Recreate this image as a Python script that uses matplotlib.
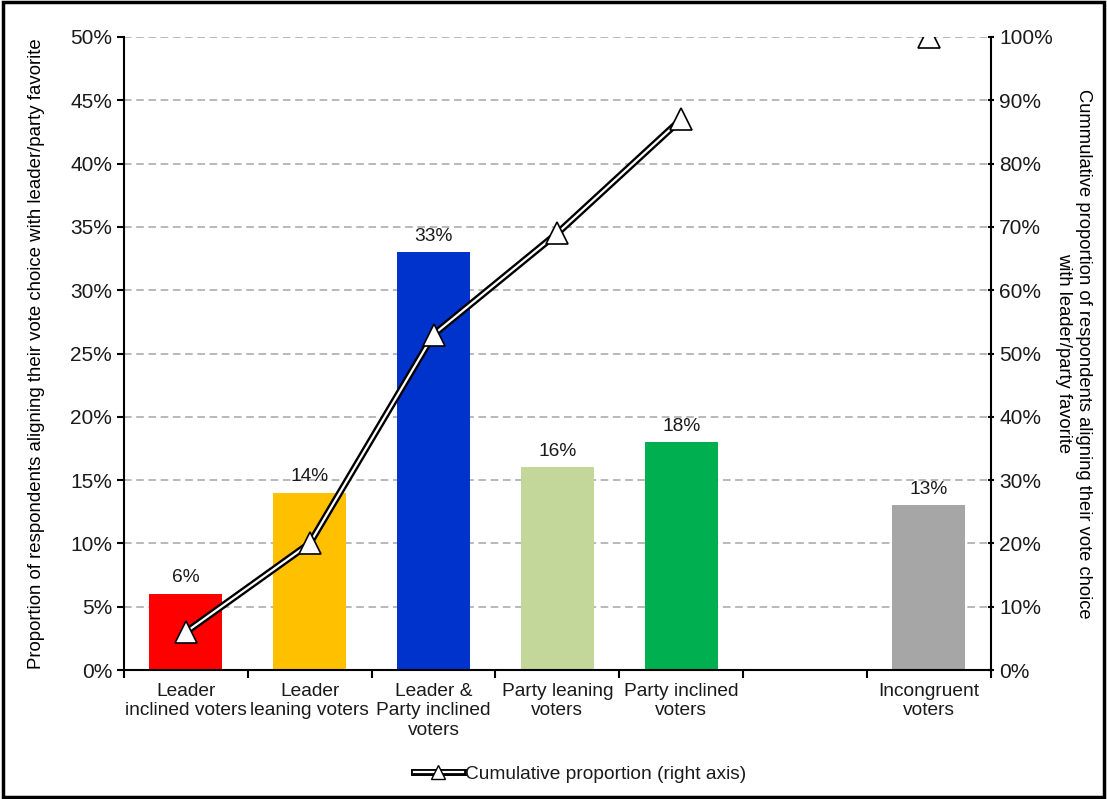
import numpy as np
import matplotlib.pyplot as plt
import matplotlib.patheffects as pe
from matplotlib.legend_handler import HandlerTuple
from matplotlib.lines import Line2D
from matplotlib.ticker import FuncFormatter, MultipleLocator

plt.rcParams['font.family'] = ['Liberation Sans', 'DejaVu Sans']
plt.rcParams['text.color'] = '#1a1a1a'

categorias = ['Leader\ninclined voters', 'Leader\nleaning voters',
              'Leader &\nParty inclined\nvoters', 'Party leaning\nvoters',
              'Party inclined\nvoters', '', 'Incongruent\nvoters']
proporcion = [6, 14, 33, 16, 18, np.nan, 13]          # eje izquierdo (%)
acumulado = [6, 20, 53, 69, 87, np.nan, 100]          # eje derecho (%)
colores = ['#ff0000', '#ffc000', '#0033cc', '#c4d79b', '#00b050', 'white', '#a6a6a6']

fs = 13.8
fig = plt.figure(figsize=(11.07, 7.99), dpi=100)
ax = fig.add_axes([0.112, 0.1614, 0.783, 0.7923])
x = np.arange(len(categorias))

ax.bar(x, np.nan_to_num(proporcion), width=0.59, color=colores, zorder=2)
for xi, v in zip(x, proporcion):
    if not np.isnan(v):
        ax.text(xi, v + 0.6, f'{v:.0f}%', ha='center', va='bottom', fontsize=fs)

ax.set_xlim(-0.5, len(categorias) - 0.5)
ax.set_ylim(0, 50)
ax.yaxis.set_major_locator(MultipleLocator(5))
ax.yaxis.set_major_formatter(FuncFormatter(lambda v, p: f'{v:.0f}%'))
ax.grid(axis='y', linestyle=(0, (5, 3)), color='#a6a6a6', linewidth=1.1, zorder=0)
ax.set_axisbelow(True)

# ticks del eje x entre categorias
ax.set_xticks(x)
ax.set_xticklabels(categorias, fontsize=fs, color='#1a1a1a')
ax.set_xticks(np.arange(-0.5, len(categorias)), minor=True)
ax.tick_params(axis='x', which='major', length=0, pad=9)
ax.tick_params(axis='x', which='minor', length=6, width=1.5, direction='out')
ax.tick_params(axis='y', labelsize=15, labelcolor='#1a1a1a', length=5, width=1.5, direction='out')

for s in ['top', 'right']:
    ax.spines[s].set_visible(False)
ax.spines['left'].set_linewidth(1.5)
ax.spines['bottom'].set_linewidth(1.5)

ax.set_ylabel('Proportion of respondents aligning their vote choice with leader/party favorite',
              fontsize=13.4, labelpad=18)

# eje derecho: proporcion acumulada
ax2 = ax.twinx()
ax2.set_ylim(0, 100)
ax2.yaxis.set_major_locator(MultipleLocator(10))
ax2.yaxis.set_major_formatter(FuncFormatter(lambda v, p: f'{v:.0f}%'))
ax2.tick_params(axis='y', labelsize=15, labelcolor='#1a1a1a', length=5, width=1.5, direction='inout')
for s in ['top', 'left', 'bottom']:
    ax2.spines[s].set_visible(False)
ax2.spines['right'].set_linewidth(1.5)
ax2.set_ylabel('Cummulative proportion of respondents aligning their vote choice\nwith leader/party favorite',
               fontsize=13.2, rotation=270, labelpad=28)

doble = [pe.Stroke(linewidth=5, foreground='black'), pe.Normal()]
linea, = ax2.plot(x, acumulado, color='white', linewidth=1.6, zorder=3, path_effects=doble)
ax2.plot(x, acumulado, linestyle='none', marker='^', markersize=16,
         markerfacecolor='white', markeredgecolor='black', markeredgewidth=1.2, zorder=4)

# muestra de la leyenda: linea doble con triangulo pequeno encima
marca_ley = Line2D([], [], linestyle='none', marker='^', markersize=10,
                   markerfacecolor='white', markeredgecolor='black', markeredgewidth=1.0)
fig.legend([(linea, marca_ley)], ['Cumulative proportion (right axis)'],
           handler_map={tuple: HandlerTuple(ndivide=1, pad=0)},
           loc='center', bbox_to_anchor=(0.524, 0.031), frameon=False, fontsize=fs,
           handlelength=2.6, handletextpad=0.1)

# marco de la figura
fig.patches.append(plt.Rectangle((0.003, 0.003), 0.994, 0.994, transform=fig.transFigure,
                                 fill=False, edgecolor='black', linewidth=2.5))

fig.savefig('out.png', dpi=100)
